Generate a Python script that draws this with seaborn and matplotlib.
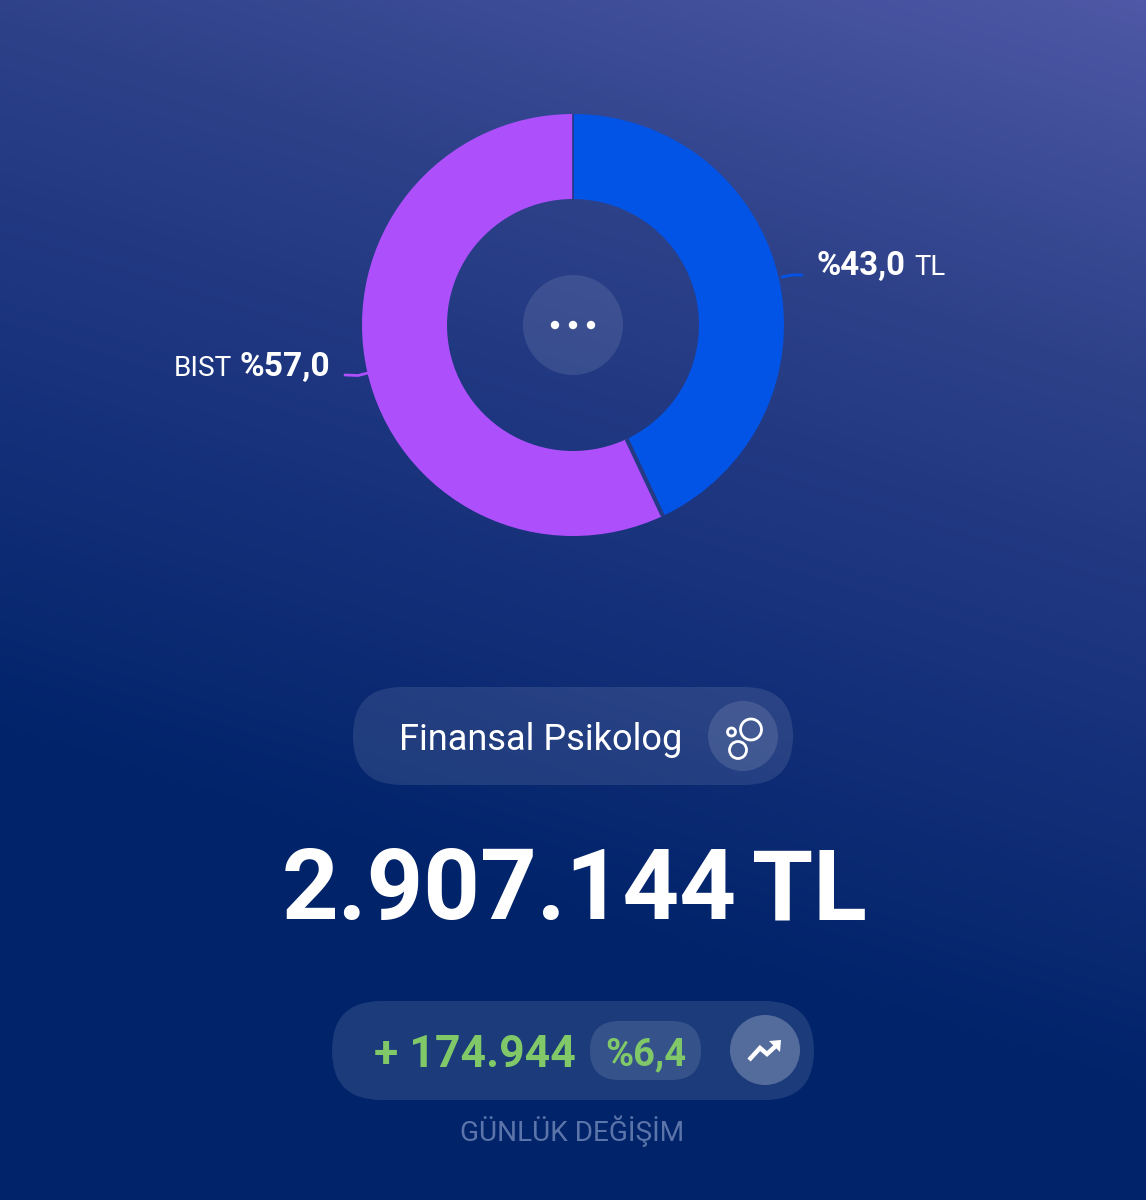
import numpy as np
import matplotlib
matplotlib.use("Agg")
import matplotlib.pyplot as plt
from matplotlib.colors import LinearSegmentedColormap
from matplotlib.patches import Circle, FancyBboxPatch, Polygon
import seaborn as sns

# Portfolio allocation
asset_names = ["TL", "BIST"]
asset_shares = [43.0, 57.0]
asset_colors = ["#0254e6", "#ad50fb"]
share_labels = ["%43,0", "%57,0"]

profile_name = "Finansal Psikolog"
total_value = "2.907.144"
currency = "TL"
daily_change = "+ 174.944"
daily_percent = "%6,4"
daily_caption = "GÜNLÜK DEĞİŞİM"

W, H = 1146, 1200
sns.set_theme(style="white")
plt.rcParams["font.family"] = ["Roboto", "DejaVu Sans"]

fig = plt.figure(figsize=(W / 100, H / 100), dpi=100)
ax = fig.add_axes([0, 0, 1, 1])


def fy(y):
    """Convert a top-down pixel row to the upward axis."""
    return H - y


def fs(px):
    """Font size in points for a height in pixels."""
    return px * 0.72


# Diagonal background wash, bright in the upper right corner
xx, yy = np.meshgrid(np.linspace(0, 1, 287), np.linspace(0, 1, 300))
wash = np.clip((yy + 0.30 * xx - 0.375) / 0.925, 0, 1)
wash_cmap = LinearSegmentedColormap.from_list(
    "wash", [(0, "#00236a"), (0.30, "#15307a"), (0.66, "#2d4189"), (1, "#4e58a6")]
)
ax.imshow(wash, extent=(0, W, 0, H), origin="lower", cmap=wash_cmap, vmin=0, vmax=1,
          aspect="auto", zorder=0, interpolation="bilinear")

# Allocation donut
cx, cy, r_out, r_in = 573, 325, 211, 126
ax.pie(asset_shares, colors=sns.color_palette(asset_colors), startangle=90, counterclock=False,
       center=(cx, fy(cy)), radius=r_out, frame=True,
       wedgeprops=dict(width=r_out - r_in, linewidth=0))
ax.set_xlim(0, W)
ax.set_ylim(0, H)
ax.set_aspect("equal")
ax.axis("off")

# Thin gaps where the two slices meet
boundaries = np.cumsum(asset_shares) / np.sum(asset_shares) * 2 * np.pi
for angle, width in zip(boundaries, [3.0, 1.2]):
    ax.plot([cx + r_in * np.sin(angle), cx + r_out * np.sin(angle)],
            [fy(cy) + r_in * np.cos(angle), fy(cy) + r_out * np.cos(angle)],
            color="#243a85", lw=width, solid_capstyle="butt", zorder=3)

# Leader lines and share labels
ax.plot([782, 792, 802], [fy(277), fy(275), fy(275)], color=asset_colors[0], lw=2, zorder=2)
ax.plot([345, 358, 372], [fy(375), fy(375.5), fy(372)], color=asset_colors[1], lw=2, zorder=2)
ax.text(816.5, fy(275), share_labels[0], color="white", fontsize=fs(33), fontweight="bold", va="baseline", ha="left")
ax.text(914, fy(275), asset_names[0], color="white", fontsize=fs(27.5), va="baseline", ha="left")
ax.text(232, fy(376), asset_names[1], color="white", fontsize=fs(28), va="baseline", ha="right")
ax.text(330, fy(376), share_labels[1], color="white", fontsize=fs(33.5), fontweight="bold", va="baseline", ha="right")

# Menu button in the donut hole
ax.add_patch(Circle((cx, fy(cy)), 50, fc="white", alpha=0.10, ec="none", zorder=5))
for dot_x in (555, 573, 591):
    ax.add_patch(Circle((dot_x, fy(cy)), 4.2, fc="white", ec="none", zorder=6))


def pill(x0, y0, x1, y1, alpha):
    h = y1 - y0
    ax.add_patch(FancyBboxPatch((x0 + h / 2, fy(y1) + h / 2), x1 - x0 - h, 0,
                                boxstyle=f"round,pad={h / 2}", fc="white", ec="none",
                                alpha=alpha, zorder=3))


# Profile pill
pill(353, 687, 793, 785, 0.10)
ax.add_patch(Circle((743, fy(736)), 35, fc="white", alpha=0.12, ec="none", zorder=4))
for ox, oy, rad in [(751, 729.5, 10.5), (738, 750, 8.5), (731.5, 732, 4)]:
    ax.add_patch(Circle((ox, fy(oy)), rad, fc="none", ec="white", lw=2.0, zorder=5))
ax.text(399, fy(750), profile_name, color="white", fontsize=fs(36.2), va="baseline", ha="left", zorder=5)

# Total value
ax.text(737, fy(919), total_value, color="white", fontsize=fs(99), fontweight="bold", va="baseline", ha="right")
ax.text(752, fy(919), currency, color="white", fontsize=fs(99), fontweight="bold", va="baseline", ha="left")

# Daily change pill
pill(332, 1001, 814, 1100, 0.11)
pill(590, 1021, 701, 1080, 0.12)
ax.add_patch(Circle((765, fy(1050)), 35, fc="white", alpha=0.25, ec="none", zorder=4))
ax.plot([749, 760, 767, 779], [fy(1060), fy(1048), fy(1054), fy(1043)], color="white", lw=3.2, zorder=5,
        solid_capstyle="butt", solid_joinstyle="miter")
ax.add_patch(Polygon([(769, fy(1041)), (781, fy(1040)), (780, fy(1052))], fc="white", ec="none", zorder=5))
ax.text(374, fy(1067), daily_change, color="#80c868", fontsize=fs(44.5), fontweight="bold", va="baseline", ha="left", zorder=5)
ax.text(646, fy(1065), daily_percent, color="#80c868", fontsize=fs(38), fontweight="bold", va="baseline", ha="center", zorder=5)
ax.text(572, fy(1141), daily_caption, color="#5b74a9", fontsize=fs(28), va="baseline", ha="center")

fig.savefig("out.png", dpi=100)
